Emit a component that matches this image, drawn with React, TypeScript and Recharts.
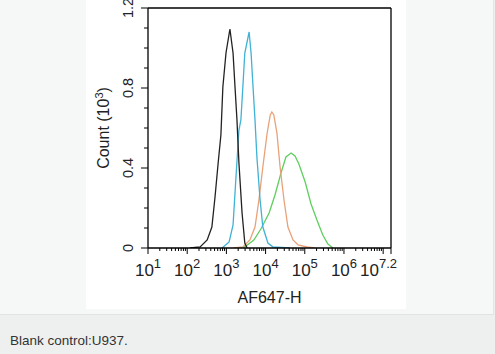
import { LineChart, Line, XAxis, YAxis, ReferenceLine } from "recharts";

const FONT = '"Liberation Sans", Arial, Helvetica, sans-serif';

// log10(AF647-H) positions and counts (x10^3)
const controlLog = [2.07, 2.33, 2.51, 2.63, 2.71, 2.79, 2.86, 2.91, 2.99, 3.09, 3.17, 3.22, 3.27, 3.32, 3.4, 3.47, 3.53];
const controlCount = [0, 0.005, 0.04, 0.105, 0.255, 0.425, 0.565, 0.805, 0.975, 1.095, 0.975, 0.805, 0.64, 0.425, 0.175, 0.025, 0];

const cyanLog = [2.89, 3.07, 3.17, 3.24, 3.32, 3.37, 3.42, 3.47, 3.58, 3.63, 3.68, 3.73, 3.78, 3.86, 3.93, 4.06, 4.19, 4.62];
const cyanCount = [0, 0.03, 0.115, 0.34, 0.59, 0.64, 0.805, 0.975, 1.08, 0.975, 0.805, 0.64, 0.45, 0.24, 0.105, 0.025, 0.005, 0];

const orangeLog = [3.17, 3.42, 3.6, 3.73, 3.83, 3.93, 4.04, 4.12, 4.16, 4.21, 4.29, 4.37, 4.47, 4.57, 4.7, 4.83, 5.06, 5.26];
const orangeCount = [0, 0.005, 0.04, 0.105, 0.24, 0.405, 0.575, 0.665, 0.68, 0.665, 0.575, 0.405, 0.24, 0.105, 0.04, 0.015, 0.005, 0];

const greenLog = [3.42, 3.5, 3.7, 3.88, 4.09, 4.24, 4.4, 4.52, 4.65, 4.75, 4.85, 5.01, 5.16, 5.31, 5.46, 5.59, 5.72];
const greenCount = [0, 0.01, 0.04, 0.095, 0.175, 0.265, 0.38, 0.455, 0.475, 0.46, 0.42, 0.33, 0.22, 0.14, 0.065, 0.02, 0];

const majorTicks = [1, 2, 3, 4, 5, 6, 7, 7.2];
const labelledTicks = [1, 2, 3, 4, 5, 6, 7.2];
const minorSteps = [2, 3, 4, 5, 6, 7, 8, 9];
const minorTicks = [1, 2, 3, 4, 5, 6].flatMap((d) => minorSteps.map((k) => d + Math.log10(k)));
const xTicks = [...majorTicks, ...minorTicks].sort((a, b) => a - b);

const yTicks = [0, 0.1, 0.2, 0.3, 0.4, 0.5, 0.6, 0.7, 0.8, 0.9, 1.0, 1.1, 1.2];
const yLabelled = [0, 0.4, 0.8, 1.2];

const toPoints = (xs: number[], ys: number[]) => xs.map((x, i) => ({ x, y: ys[i] }));

const series = [
  { name: "green", color: "#5fcf5f", data: toPoints(greenLog, greenCount) },
  { name: "orange", color: "#e9a178", data: toPoints(orangeLog, orangeCount) },
  { name: "cyan", color: "#3fb2d6", data: toPoints(cyanLog, cyanCount) },
  { name: "control", color: "#222222", data: toPoints(controlLog, controlCount) },
];

function XTick({ x, y, payload }: any) {
  const v = payload.value;
  const major = majorTicks.some((m) => Math.abs(m - v) < 1e-9);
  const labelled = labelledTicks.some((m) => Math.abs(m - v) < 1e-9);
  const last = Math.abs(v - 7.2) < 1e-9;
  return (
    <g>
      <line x1={x} x2={x} y1={y} y2={y + (major ? 6 : 3)} stroke="#000" strokeWidth={1} />
      {labelled && (
        <text
          x={last ? x + 6 : x}
          y={y + 28}
          textAnchor={last ? "end" : "middle"}
          fontSize={17}
          fontFamily={FONT}
          fill="#222"
        >
          10
          <tspan dy={-8} fontSize={13}>
            {String(v)}
          </tspan>
        </text>
      )}
    </g>
  );
}

function YTick({ x, y, payload }: any) {
  const v = payload.value;
  const major = yLabelled.some((m) => Math.abs(m - v) < 1e-9);
  return (
    <g>
      <line x1={x} x2={x - (major ? 7 : 4)} y1={y} y2={y} stroke="#000" strokeWidth={1} />
      {major && (
        <text
          transform={`translate(${x - 15}, ${y}) rotate(-90)`}
          textAnchor="middle"
          fontSize={14.5}
          fontFamily={FONT}
          fill="#222"
        >
          {v === 0 ? "0" : String(v)}
        </text>
      )}
    </g>
  );
}

function CountLabel({ viewBox }: any) {
  const cx = viewBox.x + 23;
  const cy = viewBox.y + viewBox.height / 2;
  return (
    <text
      transform={`translate(${cx}, ${cy}) rotate(-90)`}
      textAnchor="middle"
      fontSize={16}
      fontFamily={FONT}
      fill="#222"
    >
      Count (10
      <tspan dy={-6} fontSize={11}>
        3
      </tspan>
      <tspan dy={6}>)</tspan>
    </text>
  );
}

export default function App() {
  return (
    <div
      style={{
        position: "absolute",
        left: 0,
        top: 0,
        width: 495,
        height: 354,
        background: "#eef0f0",
        fontFamily: FONT,
        overflow: "hidden",
      }}
    >
      <div
        style={{
          position: "absolute",
          left: 0,
          top: 0,
          width: 493,
          height: 314,
          background: "#f6f7f7",
          borderRight: "1px solid #e4e5e5",
          borderBottom: "1px solid #e1e3e3",
        }}
      />
      <div style={{ position: "absolute", left: 86, top: 0, width: 320, height: 309, background: "#fff" }}>
        <LineChart width={320} height={309} margin={{ top: 8, right: 15, left: 0, bottom: 0 }}>
          <XAxis
            type="number"
            dataKey="x"
            domain={[1, 7.2]}
            ticks={xTicks}
            interval={0}
            allowDataOverflow
            height={61}
            tickSize={0}
            tickMargin={0}
            tickLine={false}
            tick={<XTick />}
            axisLine={{ stroke: "#000", strokeWidth: 1.3 }}
            label={{ value: "AF647-H", position: "insideBottom", offset: 6, fontSize: 16, fill: "#222", fontFamily: FONT }}
          />
          <YAxis
            type="number"
            domain={[0, 1.2]}
            ticks={yTicks}
            interval={0}
            allowDataOverflow
            width={62}
            tickSize={0}
            tickMargin={0}
            tickLine={false}
            tick={<YTick />}
            axisLine={{ stroke: "#000", strokeWidth: 1.3 }}
            label={<CountLabel />}
          />
          <ReferenceLine y={1.2} stroke="#000" strokeWidth={1.3} />
          <ReferenceLine x={7.2} stroke="#000" strokeWidth={1.3} />
          {series.map((s) => (
            <Line
              key={s.name}
              data={s.data}
              dataKey="y"
              type="linear"
              stroke={s.color}
              strokeWidth={1.3}
              dot={false}
              isAnimationActive={false}
            />
          ))}
        </LineChart>
      </div>
      <div
        style={{
          position: "absolute",
          left: 10,
          top: 333,
          fontSize: 13.5,
          color: "#333",
          lineHeight: "16px",
        }}
      >
        Blank control:U937.
      </div>
    </div>
  );
}
